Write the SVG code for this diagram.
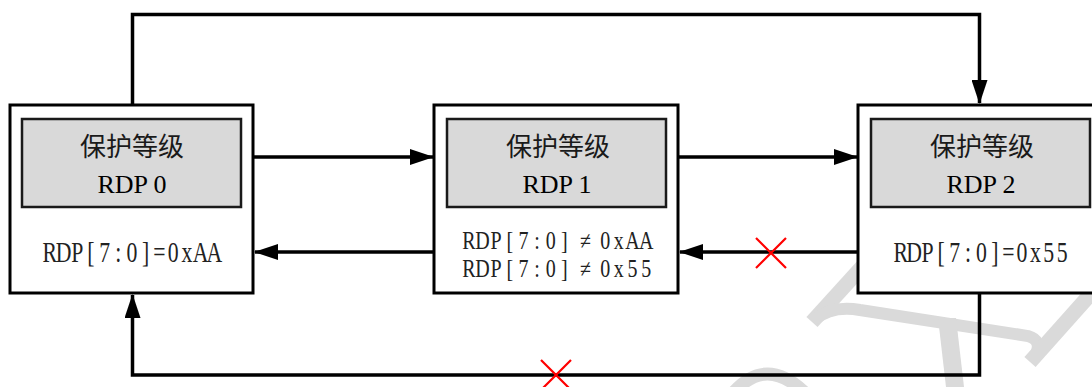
<svg xmlns="http://www.w3.org/2000/svg" width="1092" height="387" viewBox="0 0 1092 387">
  <style>
    .wm { fill: none; stroke: #dadada; stroke-linecap: butt; }
    .outer { fill: #ffffff; stroke: #000000; stroke-width: 3; }
    .inner { fill: #d9d9d9; stroke: #1a1a1a; stroke-width: 2.5; }
    .cn { font-family: "Liberation Serif", "Noto Sans CJK SC", serif; font-size: 26px; fill: #1a1a1a; text-anchor: middle; }
    .title { font-family: "Liberation Serif", "Times New Roman", serif; font-size: 26px; fill: #000000; text-anchor: middle; }
    .cond { font-family: "Liberation Serif", "Times New Roman", serif; font-size: 29px; fill: #222222; text-anchor: middle; }
    .cond2 { font-size: 25px; }
    .line { fill: none; stroke: #000000; stroke-width: 3.5; }
    .cross { stroke: #ff0000; stroke-width: 2.2; fill: none; }
  </style>
  <defs>
    <marker id="arrow" viewBox="0 0 24 16" refX="23" refY="8" markerWidth="24" markerHeight="16" markerUnits="userSpaceOnUse" orient="auto">
      <path d="M0,0 L24,8 L0,16 Z" fill="#000000"/>
    </marker>
  </defs>

  <rect width="1092" height="387" fill="#ffffff"/>

  <g id="watermark">
    <line class="wm" x1="812" y1="322" x2="872" y2="256" stroke-width="15"/>
    <path class="wm" d="M814 320 Q832 305 860 310 L1028 336 Q1042 340 1036 354" stroke-width="12"/>
    <line class="wm" x1="1030" y1="362" x2="1096" y2="288" stroke-width="15"/>
    <polygon points="938,318 956,318 964,387 946,387" fill="#dadada"/>
    <path class="wm" d="M734 392 Q766 356 804 392" stroke-width="13"/>
  </g>

  <g id="connectors">
    <polyline class="line" points="132.5,105 132.5,14.5 979.5,14.5 979.5,103" marker-end="url(#arrow)"/>
    <polyline class="line" points="979.5,293 979.5,375 132.5,375 132.5,295" marker-end="url(#arrow)"/>
    <line class="line" x1="253" y1="157" x2="433" y2="157" marker-end="url(#arrow)"/>
    <line class="line" x1="678" y1="157" x2="857" y2="157" marker-end="url(#arrow)"/>
    <line class="line" x1="434" y1="252" x2="255" y2="252" marker-end="url(#arrow)"/>
    <line class="line" x1="858" y1="252" x2="680" y2="252" marker-end="url(#arrow)"/>
  </g>

  <g id="node-rdp0">
    <rect class="outer" x="10" y="105" width="243" height="188"/>
    <rect class="inner" x="22" y="119" width="219" height="88"/>
    <text class="cn" x="132" y="156">保护等级</text>
    <text class="title" x="132" y="193">RDP 0</text>
    <text class="cond" transform="scale(0.75 1)" y="262" x="66.47 84.73 103.00 121.27 139.53 157.80 176.07 194.33 212.60 230.87 249.13 267.40 285.67">RDP[7:0]=0xAA</text>
  </g>

  <g id="node-rdp1">
    <rect class="outer" x="434" y="105" width="244" height="188"/>
    <rect class="inner" x="447" y="119" width="219" height="88"/>
    <text class="cn" x="558" y="156">保护等级</text>
    <text class="title" x="557" y="193">RDP 1</text>
    <text class="cond cond2" transform="scale(0.8 1)" y="249" x="586.03 603.08 620.13 637.18 654.23 671.28 688.33 705.38 731.75 756.53 773.58 790.63 807.68">RDP[7:0]≠0xAA</text>
    <text class="cond cond2" transform="scale(0.8 1)" y="277" x="586.03 603.08 620.13 637.18 654.23 671.28 688.33 705.38 731.75 756.53 773.58 790.63 807.68">RDP[7:0]≠0x55</text>
  </g>

  <g id="node-rdp2">
    <rect class="outer" x="858" y="105" width="245" height="188"/>
    <rect class="inner" x="871" y="119" width="219" height="88"/>
    <text class="cn" x="982" y="156">保护等级</text>
    <text class="title" x="981" y="193">RDP 2</text>
    <text class="cond" transform="scale(0.75 1)" y="262" x="1200.97 1218.92 1236.87 1254.81 1272.76 1290.71 1308.65 1326.60 1344.55 1362.49 1380.44 1398.39 1416.33">RDP[7:0]=0x55</text>
  </g>

  <g id="crosses">
    <path class="cross" d="M756 238 L786 268 M786 238 L756 268"/>
    <path class="cross" d="M541 360 L571 390 M571 360 L541 390"/>
  </g>
</svg>
